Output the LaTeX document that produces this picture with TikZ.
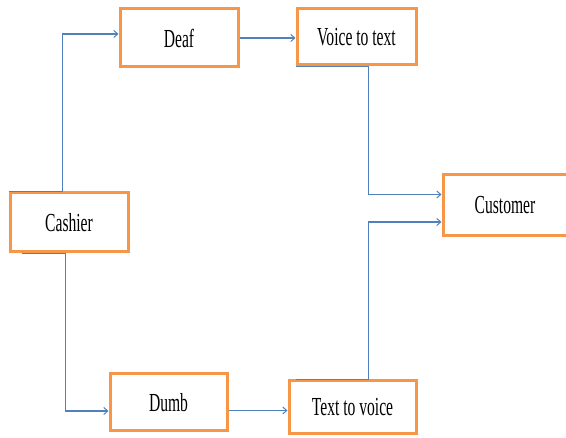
\documentclass[tikz,border=0pt]{standalone}
\usepackage{fontspec}
\setmainfont{Liberation Serif}
\usetikzlibrary{arrows.meta,calc}
\definecolor{boxorange}{HTML}{F79646}
\definecolor{lineblue}{HTML}{4F81BD}
\tikzset{
  procbox/.style={draw=boxorange, line width=3pt, fill=white, inner sep=0pt,
    font=\fontsize{26}{28}\selectfont, text=black},
  conn/.style={draw=lineblue, line width=1.3pt, -{Straight Barb[length=4pt,width=7pt,line width=1pt]}},
}
\newcommand{\sq}[1]{\scalebox{0.6}[1]{#1}}
\begin{document}
\begin{tikzpicture}[x=1pt,y=-1pt]
\useasboundingbox (0,0) rectangle (566,438);
\clip (0,0) rectangle (566,438);
\node[procbox, minimum width=118pt, minimum height=58pt] (deaf) at (179,38) {\sq{Deaf}};
\node[procbox, minimum width=119pt, minimum height=56pt] (voice) at (356.5,37) {\sq{Voice to text}};
\node[procbox, minimum width=118pt, minimum height=59pt] (cashier) at (69,222.5) {\sq{Cashier}};
\node[procbox, minimum width=124pt, minimum height=61pt] (customer) at (505,205.5) {\sq{Customer}};
\node[procbox, minimum width=117pt, minimum height=57pt] (dumb) at (168.5,402.5) {\sq{Dumb}};
\node[procbox, minimum width=127pt, minimum height=53pt] (ttv) at (352.5,407.5) {\sq{Text to voice}};
\coordinate (d1) at ($(dumb.east)+(0,8)$);
\draw[conn] (cashier.north west) -- ++(54,0) |- ($(deaf.west)+(0,-4)$);
\draw[conn] (deaf.east) -- (deaf.east -| voice.west);
\draw[conn] (voice.south west) -- ++(73,0) |- ($(customer.west)+(0,-11)$);
\draw[conn] ($(cashier.south west)+(13,0)$) -- ++(44,0) |- ($(dumb.west)+(0,8.5)$);
\draw[conn] (d1) -- (d1 -| ttv.west);
\draw[conn] ($(ttv.north west)+(8,0)$) -- ++(73,0) |- ($(customer.west)+(0,16.5)$);
\end{tikzpicture}
\end{document}
